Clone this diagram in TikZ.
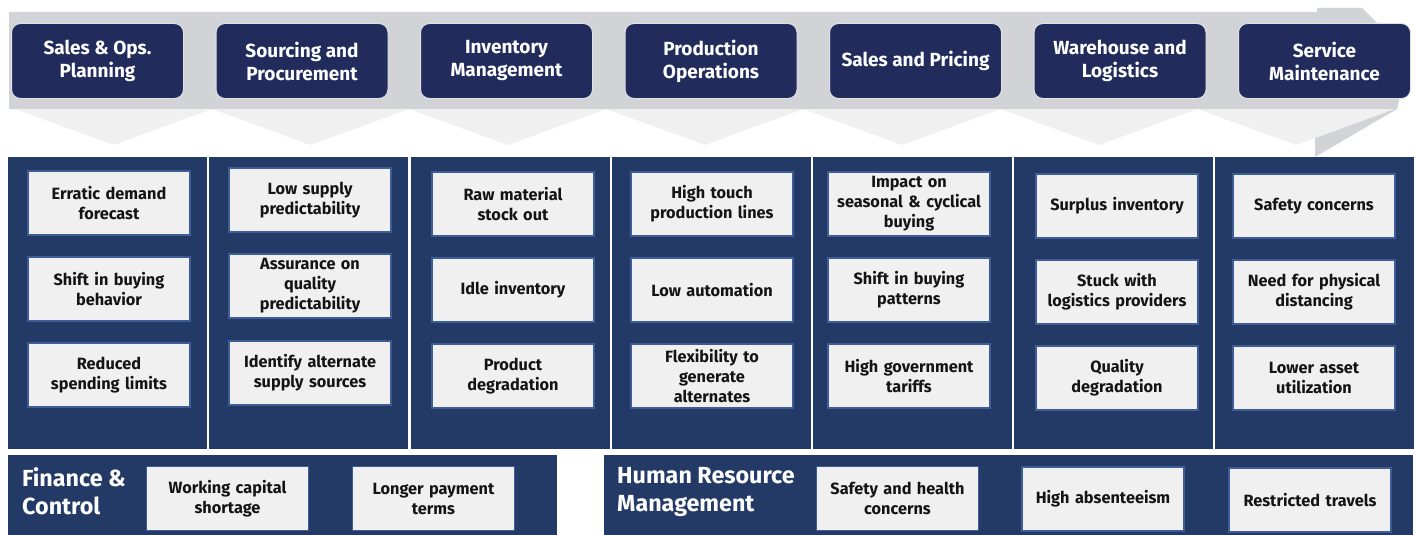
\documentclass[tikz,border=0pt]{standalone}
\usepackage{fontspec}
\setmainfont{Fira Sans}
\definecolor{bandgray}{RGB}{210,211,215}
\definecolor{chevgray}{RGB}{240,240,240}
\definecolor{stagenavy}{RGB}{33,43,92}
\definecolor{stagerim}{RGB}{225,226,230}
\definecolor{lanenavy}{RGB}{36,58,102}
\definecolor{issuefill}{RGB}{240,240,240}
\definecolor{issueedge}{RGB}{62,92,150}
\definecolor{issuetext}{RGB}{20,20,20}
\begin{document}
\begin{tikzpicture}[x=1pt,y=-1pt,
  stage/.style={rounded corners=9pt, fill=stagenavy, draw=stagerim, line width=1pt,
    minimum width=172pt, minimum height=75pt, inner sep=0pt, text=white, align=center,
    font=\bfseries\fontsize{19}{23}\selectfont},
  lane/.style={fill=lanenavy, minimum width=199pt, minimum height=292pt,
    inner sep=0pt, anchor=north west},
  strip/.style={fill=lanenavy, minimum height=80pt, inner sep=0pt, anchor=north west},
  issue/.style={fill=issuefill, draw=issueedge, line width=1.8pt,
    minimum width=162pt, minimum height=64pt, inner sep=0pt, text width=160pt,
    align=center, text=issuetext, font=\bfseries\fontsize{16.3}{20}\selectfont},
  striptitle/.style={anchor=west, align=left, text=white, inner sep=0pt,
    font=\bfseries\fontsize{23.3}{28}\selectfont}]
\useasboundingbox (0,0) rectangle (1416,535);

% grey process band with its head turning down at the right
\fill[bandgray] (9,12) -- (1317,12) -- (1317,8) -- (1362,8) -- (1410,56)
  -- (1397,109) -- (1315,157) -- (1315,109) -- (9,109) -- cycle;

% light chevrons pointing down to each lane
\foreach \i in {0,...,6}{
  \pgfmathsetmacro{\L}{15+197.1*\i}
  \pgfmathsetmacro{\R}{15+197.1*(\i+1)}
  \pgfmathsetmacro{\M}{15+197.1*(\i+0.5)}
  \fill[chevgray] (\L,109) -- (\R,109) -- (\M,145) -- cycle;
}

% process stages
\node[stage] (s1) at (97.5,61)  {Sales \& Ops.\\Planning};
\node[stage] (s2) at (302,61)   {Sourcing and\\Procurement};
\node[stage] (s3) at (506.5,61) {Inventory\\Management};
\node[stage] (s4) at (711,61)   {Production\\Operations};
\node[stage] (s5) at (915.5,61) {Sales and Pricing};
\node[stage] (s6) at (1120,61)  {Warehouse and\\Logistics};
\node[stage] (s7) at (1324.5,61){Service\\Maintenance};

% lanes
\node[lane] (l1) at (8,157) {};
\node[lane] (l2) at (209.2,157) {};
\node[lane] (l3) at (410.3,157) {};
\node[lane] (l4) at (611.5,157) {};
\node[lane] (l5) at (812.7,157) {};
\node[lane] (l6) at (1013.8,157) {};
\node[lane] (l7) at (1215,157) {};

% issues per lane
\node[issue] (a1) at (109,203)   {Erratic demand\\forecast};
\node[issue] (a2) at (109,289)   {Shift in buying\\behavior};
\node[issue] (a3) at (109,375)   {Reduced\\spending limits};

\node[issue] (b1) at (310,200)   {Low supply\\predictability};
\node[issue] (b2) at (310,286)   {Assurance on\\quality\\predictability};
\node[issue] (b3) at (310,373)   {Identify alternate\\supply sources};

\node[issue] (c1) at (513,204)   {Raw material\\stock out};
\node[issue] (c2) at (513,290)   {Idle inventory};
\node[issue] (c3) at (513,376)   {Product\\degradation};

\node[issue] (d1) at (712,204)   {High touch\\production lines};
\node[issue] (d2) at (712,290)   {Low automation};
\node[issue] (d3) at (712,376)   {Flexibility to\\generate\\alternates};

\node[issue] (e1) at (909,204)   {Impact on\\seasonal \& cyclical\\buying};
\node[issue] (e2) at (909,290)   {Shift in buying\\patterns};
\node[issue] (e3) at (909,376)   {High government\\tariffs};

\node[issue] (f1) at (1117,206)  {Surplus inventory};
\node[issue] (f2) at (1117,292)  {Stuck with\\logistics providers};
\node[issue] (f3) at (1117,378)  {Quality\\degradation};

\node[issue] (g1) at (1314,206)  {Safety concerns};
\node[issue] (g2) at (1314,292)  {Need for physical\\distancing};
\node[issue] (g3) at (1314,378)  {Lower asset\\utilization};

% cross-functional strips
\node[strip, minimum width=549pt] (fin) at (8,455) {};
\node[striptitle] (fint) at (22,491) {Finance \&\\Control};
\node[issue] (h1) at (227.5,498.5) {Working capital\\shortage};
\node[issue] (h2) at (433.5,498.5) {Longer payment\\terms};

\node[strip, minimum width=809pt] (hr) at (604,455) {};
\node[striptitle] (hrt) at (617,492) {Human Resource\\Management};
\node[issue] (k1) at (897.5,498.5) {Safety and health\\concerns};
\node[issue] (k2) at (1103,499)    {High absenteeism};
\node[issue] (k3) at (1310,500)    {Restricted travels};
\end{tikzpicture}
\end{document}
